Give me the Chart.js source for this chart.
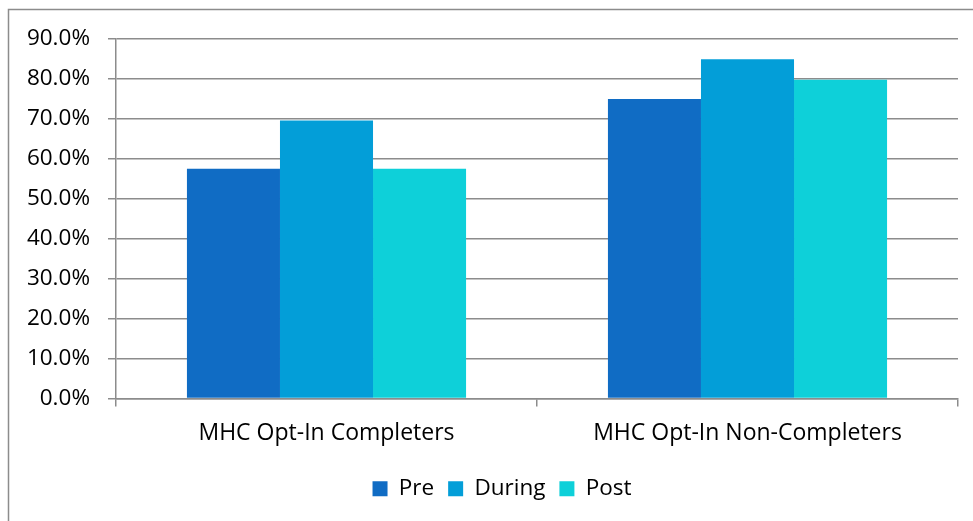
<!DOCTYPE html>
<html>
<head>
<meta charset="utf-8">
<script src="https://cdn.jsdelivr.net/npm/chart.js@4/dist/chart.umd.min.js"></script>
<style>
  html, body { margin: 0; padding: 0; background: #ffffff; }
  #wrap { position: relative; width: 973px; height: 521px; }
</style>
</head>
<body>
<div id="wrap"><canvas id="c" width="973" height="521"></canvas></div>
<script>
// Share of participants by phase, per group
const categories = ['MHC Opt-In Completers', 'MHC Opt-In Non-Completers'];
const seriesNames = ['Pre', 'During', 'Post'];
const preValues = [57.5, 75.0];
const duringValues = [69.6, 84.9];
const postValues = [57.5, 79.8];
const yTicks = [0, 10, 20, 30, 40, 50, 60, 70, 80, 90];

const colors = ['#106CC4', '#039ED8', '#0ED0D9'];
const FONT = "'Open Sans', 'Liberation Sans', sans-serif";
const GRID = '#8c8c8c';

// outer frame of the chart object
const framePlugin = {
  id: 'frame',
  beforeDraw(chart) {
    const ctx = chart.ctx;
    ctx.save();
    ctx.fillStyle = '#ffffff';
    ctx.fillRect(0, 0, chart.width, chart.height);
    ctx.strokeStyle = GRID;
    ctx.lineWidth = 1.5;
    ctx.beginPath();
    ctx.moveTo(8.5, chart.height + 5);
    ctx.lineTo(8.5, 9.5);
    ctx.lineTo(chart.width + 5, 9.5);
    ctx.stroke();
    ctx.restore();
  }
};

// legend sits a little right of the canvas centre
const legendShift = {
  id: 'legendShift',
  afterLayout(chart) {
    const lg = chart.legend;
    if (lg) { lg.left += 23; lg.right += 23; }
  }
};

new Chart(document.getElementById('c'), {
  type: 'bar',
  data: {
    labels: categories,
    datasets: [
      { label: seriesNames[0], data: preValues, backgroundColor: colors[0] },
      { label: seriesNames[1], data: duringValues, backgroundColor: colors[1] },
      { label: seriesNames[2], data: postValues, backgroundColor: colors[2] }
    ]
  },
  options: {
    responsive: false,
    animation: false,
    layout: { padding: { left: 0, top: 39, right: 15, bottom: 11 } },
    datasets: { bar: { categoryPercentage: 0.663, barPercentage: 1.0, borderWidth: 0 } },
    scales: {
      x: {
        offset: true,
        grid: { offset: true, drawOnChartArea: false, drawTicks: true, tickLength: 8, color: GRID, lineWidth: 1.5 },
        border: { color: GRID, width: 1.5 },
        ticks: { color: '#000', font: { family: FONT, size: 23 }, padding: 13 },
        afterFit(s) { s.height = 65; }
      },
      y: {
        min: 0, max: 90,
        afterBuildTicks(s) { s.ticks = yTicks.map(v => ({ value: v })); },
        grid: { color: GRID, lineWidth: 1.5, tickLength: 8, drawTicks: true },
        border: { color: GRID, width: 1.5 },
        ticks: {
          color: '#000', font: { family: FONT, size: 22.5 }, padding: 18,
          callback: v => v.toFixed(1) + '%'
        },
        afterFit(s) { s.width = 116; }
      }
    },
    plugins: {
      legend: {
        position: 'bottom',
        labels: { color: '#000', font: { family: FONT, size: 22.5 }, boxWidth: 15, boxHeight: 15, padding: 14 }
      },
      tooltip: { enabled: false }
    }
  },
  plugins: [framePlugin, legendShift]
});
</script>
</body>
</html>
